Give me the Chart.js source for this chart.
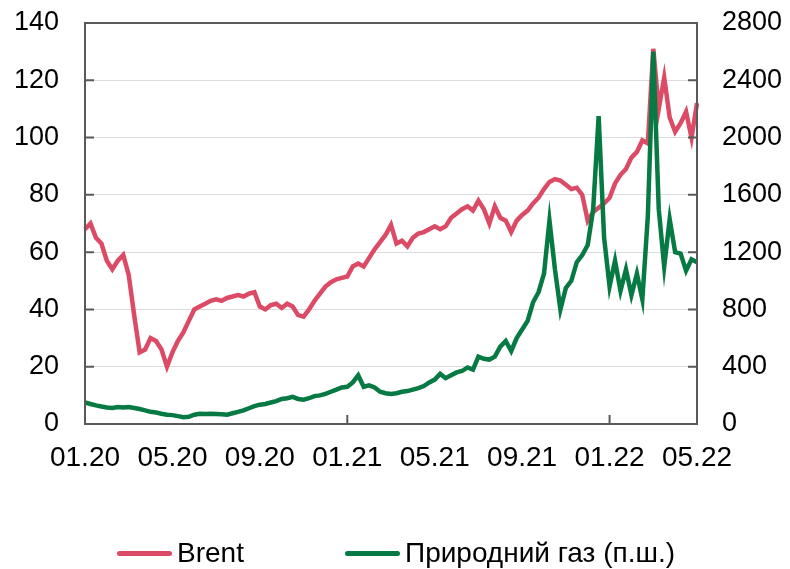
<!DOCTYPE html>
<html lang="uk">
<head>
<meta charset="utf-8">
<title>Brent і природний газ</title>
<script src="https://cdn.jsdelivr.net/npm/chart.js@4.4.0/dist/chart.umd.min.js"></script>
<style>
  body { margin: 0; background: #fff; }
  #wrap { position: relative; width: 790px; height: 569px; }
  #legend { position: absolute; left: 0; top: 536px; width: 790px; height: 34px;
            font: 28px "Liberation Sans", Arial, sans-serif; color: #000; }
  .item { position: absolute; top: 0; height: 34px; display: flex; align-items: center; white-space: nowrap; }
  .swatch { display: inline-block; width: 55px; height: 5px; border-radius: 3px; margin-right: 5px; }
</style>
</head>
<body>
<div id="wrap">
  <canvas id="chart"></canvas>
  <div id="legend">
    <div class="item" style="left:117px"><span class="swatch" style="background:#dc4b66"></span>Brent</div>
    <div class="item" style="left:345px"><span class="swatch" style="background:#077a44"></span>Природний газ (п.ш.)</div>
  </div>
</div>
<script>
// Weekly values, Jan 2020 - May 2022 (4 points per month)
// Brent, USD/bbl (left axis)
const brent = [
  68, 70, 65, 63,        // 01.20
  57, 54, 57, 59,        // 02.20
  52, 38, 25, 26,        // 03.20
  30, 29, 26, 20,        // 04.20
  25, 29, 32, 36,        // 05.20
  40, 41, 42, 43,        // 06.20
  43.5, 43, 44, 44.5,    // 07.20
  45, 44.5, 45.5, 46,    // 08.20
  41, 40, 41.5, 42,      // 09.20
  40.5, 42, 41, 38,      // 10.20
  37.5, 40, 43, 45.5,    // 11.20
  48, 49.5, 50.5, 51,    // 12.20
  51.5, 55, 56, 55,      // 01.21
  58, 61, 63.5, 66,      // 02.21
  69.5, 63, 64, 62,      // 03.21
  65, 66.5, 67, 68,      // 04.21
  69, 68, 69, 72,        // 05.21
  73.5, 75, 76, 74.5,    // 06.21
  78, 75, 70, 76,        // 07.21
  72, 71, 67, 71,        // 08.21
  73, 74.5, 77, 79,      // 09.21
  82, 84.5, 85.5, 85,    // 10.21
  83.5, 82, 82.5, 80,    // 11.21
  71, 74, 75.5, 77,      // 12.21
  79, 84, 87, 89,        // 01.22
  93, 95, 99, 98,        // 02.22
  131, 110, 121, 107,    // 03.22
  102, 105, 109, 100,    // 04.22
  112                    // 05.22
];

// Natural gas, USD per 1000 m3 (right axis)
const gas = [
  150, 140, 130, 122,    // 01.20
  115, 112, 118, 115,    // 02.20
  118, 112, 105, 95,     // 03.20
  85, 80, 72, 65,        // 04.20
  62, 55, 48, 50,        // 05.20
  65, 72, 70, 72,        // 06.20
  70, 68, 65, 75,        // 07.20
  85, 95, 110, 125,      // 08.20
  135, 140, 150, 160,    // 09.20
  175, 180, 190, 175,    // 10.20
  170, 180, 195, 200,    // 11.20
  210, 225, 240, 255,    // 12.20
  260, 290, 340, 260,    // 01.21
  270, 255, 225, 215,    // 02.21
  210, 215, 225, 230,    // 03.21
  240, 250, 265, 290,    // 04.21
  310, 350, 320, 340,    // 05.21
  360, 370, 395, 380,    // 06.21
  470, 455, 450, 470,    // 07.21
  540, 580, 510, 600,    // 08.21
  660, 720, 850, 920,    // 09.21
  1050, 1420, 1080, 800, // 10.21
  950, 1000, 1130, 1180, // 11.21
  1250, 1500, 2150, 1300,// 12.21
  960, 1140, 930, 1080,  // 01.22
  900, 1050, 870, 1450,  // 02.22
  2600, 1500, 1100, 1430,// 03.22
  1200, 1190, 1070, 1150,// 04.22
  1130                   // 05.22
];

const tickLabels = ['01.20', '05.20', '09.20', '01.21', '05.21', '09.21', '01.22', '05.22'];
const weeksPerTick = 16;
const yearTicks = ['01.21', '01.22'];

// one category per week, named by month
const weeks = brent.map((v, i) => {
  const m = Math.floor(i / 4);
  return String(m % 12 + 1).padStart(2, '0') + '.' + (20 + Math.floor(m / 12));
});

const axisColor = '#595959';

// frame round the plot and the short inward tick marks
const framePlugin = {
  id: 'frame',
  afterDatasetsDraw(chart) {
    const { ctx, chartArea: a, scales } = chart;
    ctx.save();
    ctx.strokeStyle = axisColor;
    ctx.lineWidth = 2;
    ctx.strokeRect(a.left, a.top, a.right - a.left, a.bottom - a.top);
    ctx.beginPath();
    scales.y.ticks.forEach(t => {
      const py = scales.y.getPixelForValue(t.value);
      ctx.moveTo(a.left, py); ctx.lineTo(a.left + 9, py);
    });
    scales.y2.ticks.forEach(t => {
      const py = scales.y2.getPixelForValue(t.value);
      ctx.moveTo(a.right - 9, py); ctx.lineTo(a.right, py);
    });
    weeks.forEach((w, i) => {
      if (i % weeksPerTick === 0 && yearTicks.includes(tickLabels[i / weeksPerTick])) {
        const px = scales.x.getPixelForValue(i);
        ctx.moveTo(px, a.bottom); ctx.lineTo(px, a.bottom - 9);
      }
    });
    ctx.stroke();
    ctx.restore();
  }
};

// fixed axis sizes so the plot sits where it does in the source
function fixWidth(w) {
  return s => { s.width = w; s.paddingTop = 0; s.paddingBottom = 0; };
}

Chart.defaults.font.family = '"Liberation Sans", Arial, sans-serif';
Chart.defaults.color = '#000';

new Chart(document.getElementById('chart'), {
  type: 'line',
  data: {
    labels: weeks,
    datasets: [
      {
        label: 'Brent',
        data: brent,
        yAxisID: 'y',
        borderColor: '#dc4b66',
        borderWidth: 4.5,
        pointRadius: 0,
        order: 1
      },
      {
        label: 'Природний газ (п.ш.)',
        data: gas,
        yAxisID: 'y2',
        borderColor: '#077a44',
        borderWidth: 4.5,
        pointRadius: 0,
        order: 0
      }
    ]
  },
  options: {
    responsive: true,
    maintainAspectRatio: false,
    animation: false,
    layout: { padding: { top: 23, bottom: 0, left: 0, right: 0 } },
    plugins: {
      legend: { display: false },
      tooltip: { enabled: false }
    },
    scales: {
      x: {
        offset: false,
        border: { display: false },
        grid: {
          drawTicks: false,
          color: c => yearTicks.includes(tickLabels[c.index / weeksPerTick]) ? '#c4c7cc' : 'transparent'
        },
        ticks: {
          autoSkip: false,
          maxRotation: 0,
          padding: 17,
          font: { size: 28 },
          callback: (val, i) => i % weeksPerTick === 0 ? tickLabels[i / weeksPerTick] : null
        },
        afterFit: s => { s.height = 145; }
      },
      y: {
        position: 'left',
        min: 0,
        max: 140,
        border: { display: false },
        grid: {
          drawTicks: false,
          color: c => (c.tick.value === 0 || c.tick.value === 140) ? 'transparent' : '#d9dbde'
        },
        ticks: { stepSize: 20, padding: 26, font: { size: 27 } },
        afterFit: fixWidth(85)
      },
      y2: {
        position: 'right',
        min: 0,
        max: 2800,
        border: { display: false },
        grid: { display: false, drawTicks: false },
        ticks: { stepSize: 400, padding: 25, font: { size: 27 }, callback: v => String(v) },
        afterFit: fixWidth(93)
      }
    }
  },
  plugins: [framePlugin]
});
</script>
</body>
</html>
